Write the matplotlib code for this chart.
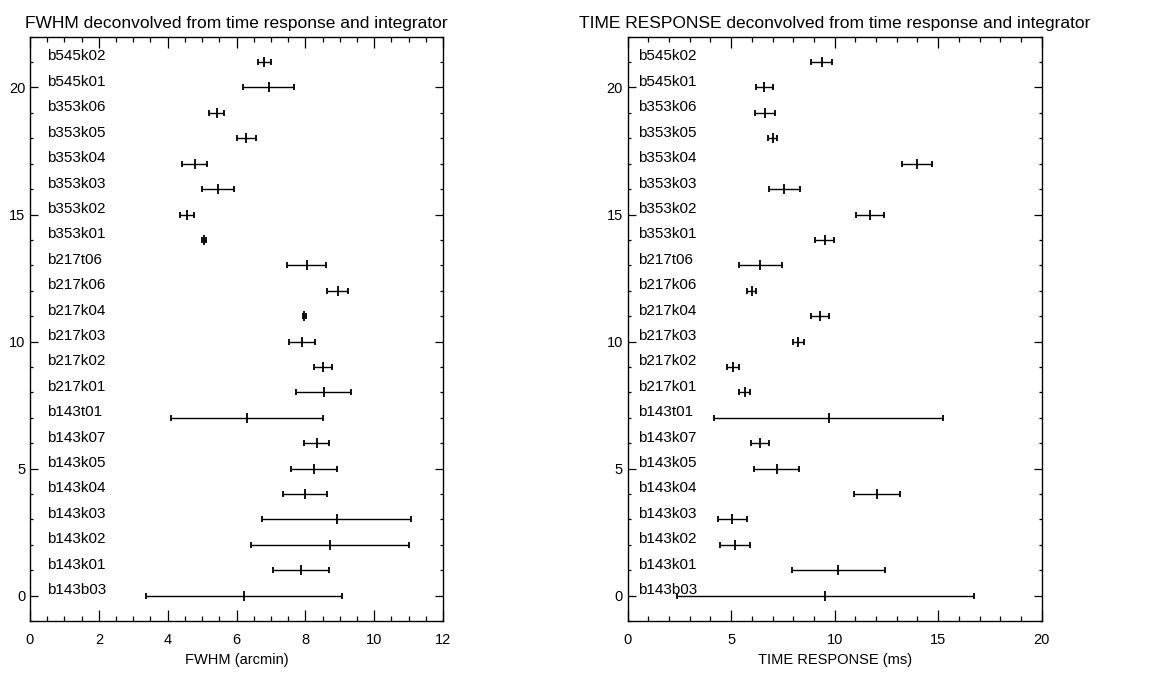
import matplotlib
matplotlib.use("Agg")
import matplotlib.pyplot as plt
from matplotlib.ticker import MultipleLocator

plt.rcParams['font.family'] = ['Liberation Sans', 'DejaVu Sans']

# detector names, bottom (y=0) to top (y=21)
detectors = ['b143b03', 'b143k01', 'b143k02', 'b143k03', 'b143k04', 'b143k05',
             'b143k07', 'b143t01', 'b217k01', 'b217k02', 'b217k03', 'b217k04',
             'b217k06', 'b217t06', 'b353k01', 'b353k02', 'b353k03', 'b353k04',
             'b353k05', 'b353k06', 'b545k01', 'b545k02']

# FWHM (arcmin) and its error
fwhm = [6.21, 7.87, 8.72, 8.91, 7.99, 8.25, 8.33, 6.31, 8.53, 8.51, 7.90,
        7.97, 8.94, 8.04, 5.05, 4.56, 5.46, 4.78, 6.28, 5.43, 6.93, 6.81]
fwhm_err = [2.85, 0.82, 2.30, 2.16, 0.64, 0.68, 0.36, 2.21, 0.81, 0.25, 0.38,
            0.04, 0.31, 0.56, 0.06, 0.21, 0.47, 0.37, 0.28, 0.22, 0.75, 0.19]

# time response (ms) and its error
tresp = [9.55, 10.18, 5.19, 5.06, 12.06, 7.20, 6.38, 9.71, 5.65, 5.10, 8.24,
         9.29, 5.99, 6.41, 9.52, 11.72, 7.57, 13.99, 7.00, 6.63, 6.60, 9.37]
tresp_err = [7.18, 2.26, 0.74, 0.69, 1.11, 1.08, 0.43, 5.52, 0.28, 0.30, 0.27,
             0.43, 0.23, 1.03, 0.47, 0.67, 0.76, 0.73, 0.21, 0.47, 0.40, 0.52]

ypos = list(range(len(detectors)))

fig = plt.figure(figsize=(11.58, 6.73), dpi=100)
ax1 = fig.add_axes([0.0259, 0.0773, 0.3567, 0.8682])
ax2 = fig.add_axes([0.5420, 0.0773, 0.3575, 0.8682])

panels = [
    (ax1, fwhm, fwhm_err, 12, 2, 0.5, 'FWHM (arcmin)',
     'FWHM deconvolved from time response and integrator'),
    (ax2, tresp, tresp_err, 20, 5, 1, 'TIME RESPONSE (ms)',
     'TIME RESPONSE deconvolved from time response and integrator'),
]

for ax, vals, errs, xmax, major, minor, xlabel, title in panels:
    ax.errorbar(vals, ypos, xerr=errs, fmt='|', color='black', ms=7, mew=1.3,
                elinewidth=1.0, capsize=2.2, capthick=1.0)
    for y, name in zip(ypos, detectors):
        ax.text(0.5, y + 0.22, name, fontsize=11, ha='left', va='center')
    ax.set_xlim(0, xmax)
    ax.set_ylim(-1, 22)
    ax.xaxis.set_major_locator(MultipleLocator(major))
    ax.xaxis.set_minor_locator(MultipleLocator(minor))
    ax.yaxis.set_major_locator(MultipleLocator(5))
    ax.yaxis.set_minor_locator(MultipleLocator(1))
    ax.tick_params(which='both', direction='in', top=True, right=True,
                   labelsize=10.5, width=0.9)
    ax.tick_params(axis='x', which='major', length=8, pad=9)
    ax.tick_params(axis='x', which='minor', length=3.5)
    ax.tick_params(axis='y', which='major', length=6, pad=3.5)
    ax.tick_params(axis='y', which='minor', length=2.5)
    for sp in ax.spines.values():
        sp.set_linewidth(1.0)
    ax.set_xlabel(xlabel, fontsize=10.5, labelpad=4)
    ax.set_title(title, fontsize=12.5, pad=6)

fig.savefig('out.png', dpi=100)
